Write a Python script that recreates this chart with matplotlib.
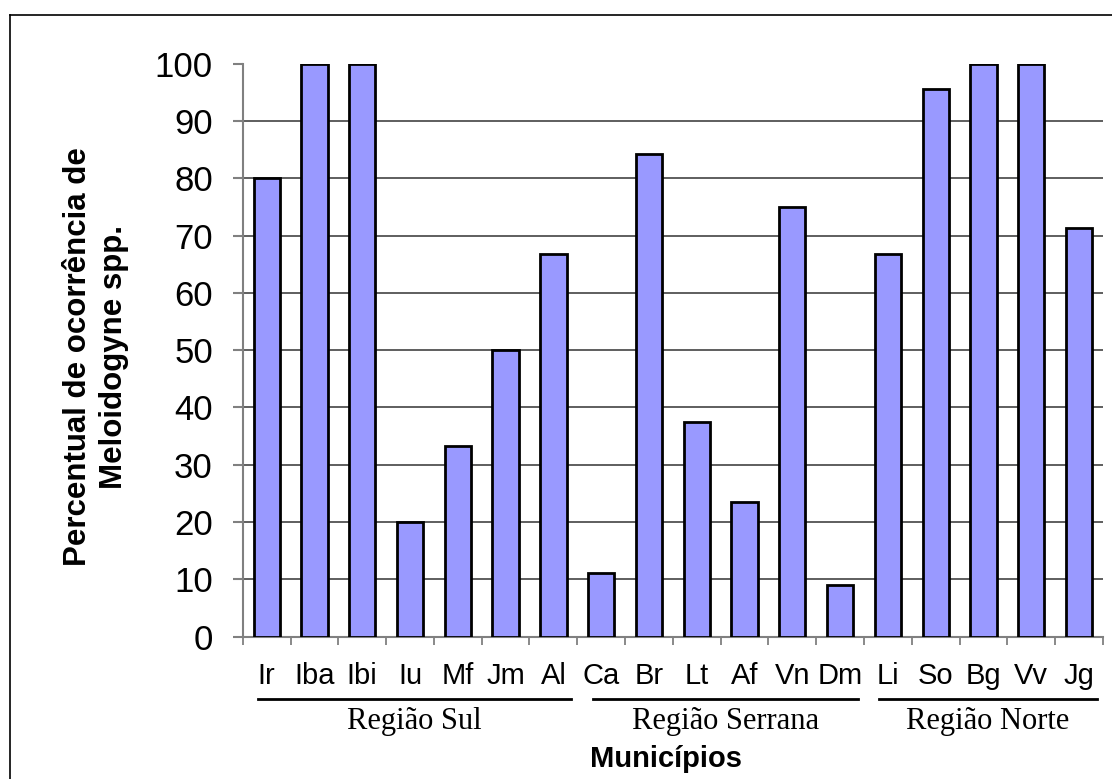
import numpy as np
import matplotlib
matplotlib.use('Agg')
import matplotlib.pyplot as plt
from matplotlib.lines import Line2D
from matplotlib.transforms import blended_transform_factory

# data
municipios = ['Ir', 'Iba', 'Ibi', 'Iu', 'Mf', 'Jm', 'Al',
              'Ca', 'Br', 'Lt', 'Af', 'Vn', 'Dm',
              'Li', 'So', 'Bg', 'Vv', 'Jg']
percentual = [80, 100, 100, 20, 33.3, 50, 66.7,
              11.1, 84.2, 37.5, 23.5, 75, 9,
              66.7, 95.5, 100, 100, 71.4]
regioes = ['Região Sul', 'Região Serrana', 'Região Norte']
n_por_regiao = [7, 6, 5]
yticks = list(range(0, 101, 10))

plt.rcParams['font.family'] = ['Liberation Sans', 'DejaVu Sans']

fig = plt.figure(figsize=(11.12, 7.79), dpi=100)
ax = fig.add_axes([0.2183, 0.1827, 0.7736, 0.7356])

x = np.arange(len(municipios))
ax.bar(x, percentual, width=0.55, color='#9999FF', edgecolor='black',
       linewidth=2.0, zorder=3)

ax.set_xlim(-0.5, len(municipios) - 0.5)
ax.set_ylim(0, 100)
ax.set_yticks(yticks)
ax.set_yticklabels([str(t) for t in yticks], fontsize=25)

# gridlines except on top
ax.grid(axis='y', color='#333333', linewidth=1.1, zorder=0)
ax.yaxis.get_gridlines()[-1].set_visible(False)

for s in ['top', 'right']:
    ax.spines[s].set_visible(False)
for s in ['left', 'bottom']:
    ax.spines[s].set_color('#808080')
    ax.spines[s].set_linewidth(1.5)

ax.tick_params(axis='y', direction='out', length=7.5, width=1.5,
               color='#808080', pad=14)
# category boundaries as ticks
ax.set_xticks(np.arange(-0.5, len(municipios), 1.0), minor=True)
ax.set_xticks([])
ax.tick_params(axis='x', which='minor', direction='out', length=6,
               width=1.3, color='#808080')

trans = blended_transform_factory(ax.transData, fig.transFigure)
for xi, nome in zip(x, municipios):
    ax.text(xi, 1 - 684 / 779, nome, transform=trans, ha='center',
            va='baseline', fontsize=21)

# region underlines and names
start = 0
for nome, n in zip(regioes, n_por_regiao):
    end = start + n - 1
    x0, x1 = start - 0.18, end + 0.37
    ax.add_line(Line2D([x0, x1], [1 - 699 / 779] * 2, transform=trans,
                       color='black', linewidth=2, clip_on=False))
    ax.text((x0 + x1) / 2, 1 - 729 / 779, nome, transform=trans,
            ha='center', va='baseline', fontsize=22,
            family='Liberation Serif')
    start += n

fig.text(0.599, 1 - 767 / 779, 'Municípios', ha='center', va='baseline',
         fontsize=21, fontweight='bold')
fig.text(96 / 1112, 1 - 357 / 779,
         'Percentual de ocorrência de\nMeloidogyne spp.',
         rotation=90, ha='center', va='center', fontsize=22.5,
         fontweight='bold', linespacing=1.25)

# outer frame (left and top edges visible)
fig.add_artist(Line2D([9.5 / 1112, 9.5 / 1112], [0, 1 - 15 / 779],
                      transform=fig.transFigure, color='black', linewidth=1.2))
fig.add_artist(Line2D([9.5 / 1112, 1], [1 - 15 / 779, 1 - 15 / 779],
                      transform=fig.transFigure, color='black', linewidth=1.2))

fig.savefig('out.png', dpi=100)
